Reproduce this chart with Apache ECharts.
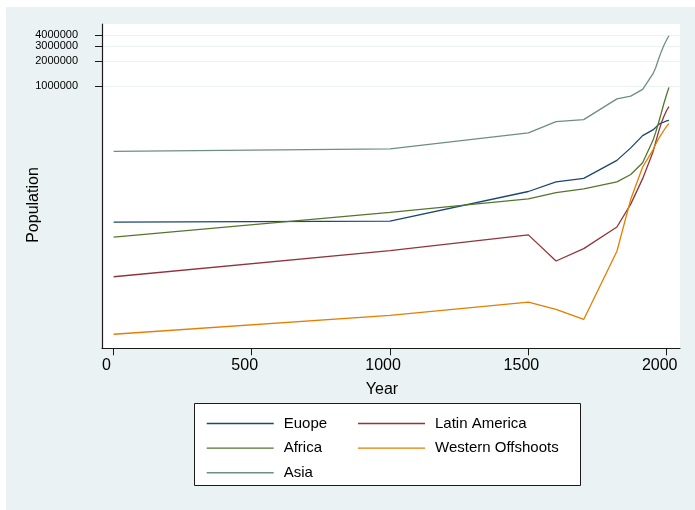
<!DOCTYPE html>
<html>
<head>
<meta charset="utf-8">
<script src="https://cdn.jsdelivr.net/npm/echarts@6/dist/echarts.min.js"></script>
<style>
  html, body { margin: 0; padding: 0; background: #ffffff; }
  #chart { width: 695px; height: 510px; }
</style>
</head>
<body>
<div id="chart"></div>
<script>
// Population by region (thousands), benchmark years
const years = [1, 1000, 1500, 1600, 1700, 1820, 1870, 1913, 1950, 1960, 1970, 1980, 1990, 2000, 2008];

const europe       = [24700, 25400, 57000, 74000, 81500, 133000, 187000, 261000, 305000, 326000, 352000, 368000, 378000, 390000, 396000];
const latinAmerica = [5600, 11400, 17500, 8600, 12050, 21700, 40400, 80900, 166000, 218000, 285000, 362000, 441000, 521000, 575000];
const africa       = [16500, 32300, 46600, 55300, 61100, 74200, 90500, 124700, 228000, 285000, 366000, 478000, 630000, 805000, 970000];
const westernOff   = [1170, 1960, 2800, 2300, 1750, 11200, 46100, 111000, 176000, 206000, 238000, 268000, 302000, 338000, 362000];
const asia         = [170000, 182000, 282000, 381000, 403000, 710000, 765000, 920000, 1400000, 1660000, 2070000, 2550000, 3050000, 3550000, 3960000];

const seriesNames  = ['Euope', 'Latin America', 'Africa', 'Western Offshoots', 'Asia'];
const seriesValues = [europe, latinAmerica, africa, westernOff, asia];
const seriesColors = ['#1a476f', '#90353b', '#55752f', '#e37e00', '#6e8e84'];

const xTickValues = [0, 500, 1000, 1500, 2000];
// the top tick sits on its own axis copy so the closely spaced labels both stay visible
const yTickValuesLow = [1000000, 2000000, 3000000];
const yTickValuesTop = [4000000];

const FONT = 'Liberation Sans, Arial, sans-serif';
const Y_MIN = 798, Y_MAX = 5450000;

const chart = echarts.init(document.getElementById('chart'), null, { renderer: 'canvas' });

const series = seriesNames.map((name, i) => ({
  name: name,
  type: 'line',
  yAxisIndex: 0,
  symbol: 'none',
  showSymbol: false,
  animation: false,
  data: years.map((yr, k) => [yr, seriesValues[i][k]]),
  lineStyle: { color: seriesColors[i], width: 1.3 },
  itemStyle: { color: seriesColors[i] }
}));

const legendCommon = {
  orient: 'vertical',
  icon: 'rect',
  itemWidth: 67,
  itemHeight: 1.4,
  itemGap: 7.6,
  selectedMode: false,
  textStyle: { fontFamily: FONT, fontSize: 15, lineHeight: 17, color: '#000', padding: [0, 0, 0, 5] }
};

function logAxis(ticks, showLine) {
  return {
    type: 'log',
    logBase: 10,
    position: 'left',
    min: Y_MIN, max: Y_MAX,
    axisLine: { show: showLine, onZero: false, lineStyle: { color: '#1a1a1a', width: 1.2 } },
    axisTick: { show: true, length: 7, customValues: ticks, lineStyle: { color: '#1a1a1a', width: 1 } },
    axisLabel: { customValues: ticks, fontFamily: FONT, fontSize: 11, color: '#000', margin: 24,
                 formatter: v => String(Math.round(v)) },
    splitLine: { show: true, lineStyle: { color: '#eaf2f3', width: 1 } },
    minorTick: { show: false }
  };
}

chart.setOption({
  backgroundColor: '#ffffff',
  animation: false,
  grid: {
    left: 102, top: 24, width: 578, height: 324.3,
    show: true, backgroundColor: '#ffffff', borderWidth: 0
  },
  xAxis: {
    type: 'value',
    min: -41, max: 2048,
    axisLine: { show: true, onZero: false, lineStyle: { color: '#1a1a1a', width: 1.2 } },
    axisTick: { show: true, length: 7, customValues: xTickValues, lineStyle: { color: '#1a1a1a', width: 1 } },
    axisLabel: { customValues: xTickValues, fontFamily: FONT, fontSize: 16, color: '#000', margin: 9,
                 padding: [0, 14, 0, 0], formatter: v => String(v) },
    splitLine: { show: false }
  },
  yAxis: [logAxis(yTickValuesLow, true), logAxis(yTickValuesTop, false)],
  legend: [
    Object.assign({ left: 201.7, top: 410, data: ['Euope', 'Africa', 'Asia'] }, legendCommon),
    Object.assign({ left: 353, top: 410, data: ['Latin America', 'Western Offshoots'] }, legendCommon)
  ],
  graphic: [
    { type: 'rect', z: -10, silent: true,
      shape: { x: 6, y: 7, width: 689, height: 503 },
      style: { fill: '#eaf2f3' } },
    { type: 'rect', z: -5, silent: true,
      shape: { x: 194.5, y: 403.5, width: 386, height: 82 },
      style: { fill: '#ffffff', stroke: '#1a1a1a', lineWidth: 1 } },
    { type: 'text', silent: true, x: 382, y: 389.5,
      style: { text: 'Year', font: '16px ' + FONT, fill: '#000', align: 'center', verticalAlign: 'middle' } },
    { type: 'text', silent: true, x: 33.5, y: 205, rotation: Math.PI / 2,
      style: { text: 'Population', font: '16px ' + FONT, fill: '#000', align: 'center', verticalAlign: 'middle' } }
  ],
  series: series
});
</script>
</body>
</html>
